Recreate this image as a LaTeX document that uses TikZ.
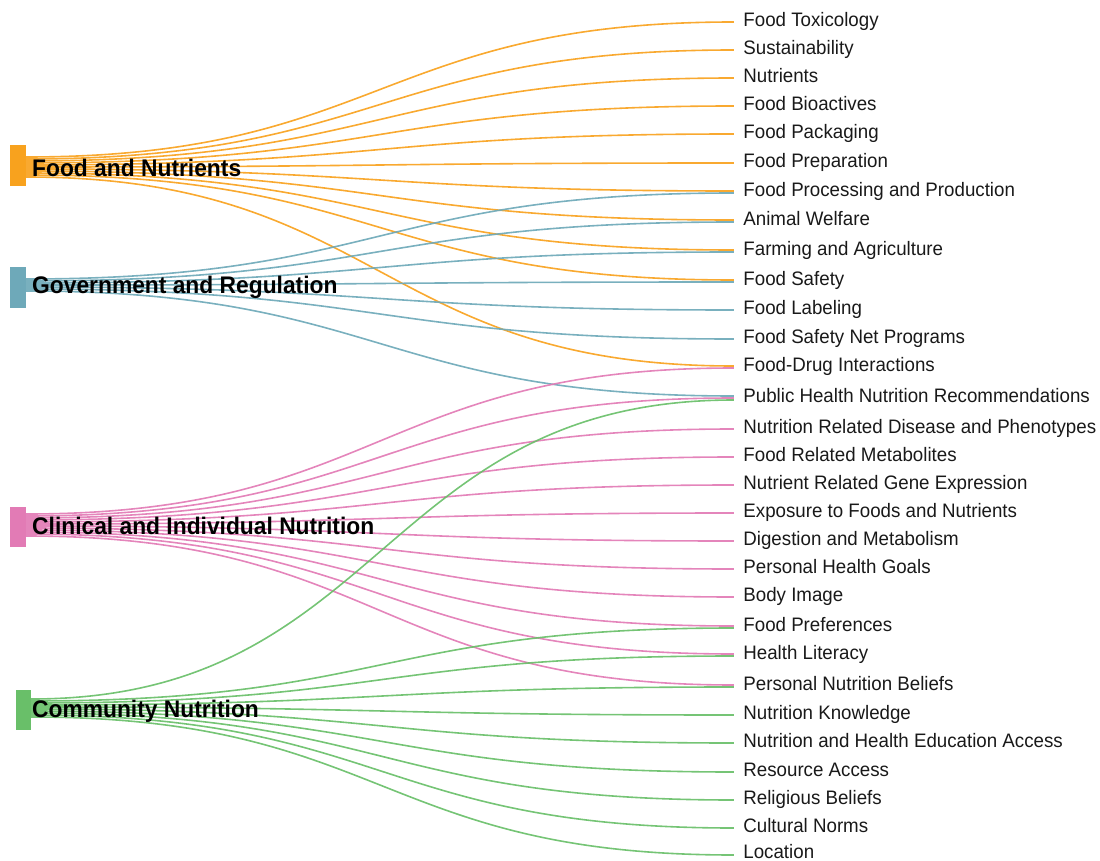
\documentclass[tikz,border=0pt]{standalone}
\usepackage{fontspec}
\setmainfont{Liberation Sans}
\newfontfamily\rfont[FakeStretch=0.96]{Liberation Sans}
\newfontfamily\bfont[FakeStretch=0.95]{Liberation Sans}
\definecolor{cOr}{HTML}{F8A21E}
\definecolor{cTe}{HTML}{6EA9B9}
\definecolor{cPi}{HTML}{E27BB5}
\definecolor{cGr}{HTML}{69BF69}
\tikzset{
  srcbar/.style={rectangle, inner sep=0pt, minimum width=16pt, minimum height=41pt},
  srclab/.style={anchor=base west, inner sep=0pt, font=\bfont\bfseries\fontsize{24}{26}\selectfont, text=black},
  lab/.style={inner sep=0pt, xshift=9pt, text height=13.5pt, text depth=4pt, font=\rfont\fontsize{19.5}{22}\selectfont, text=black!90},
  tgt/.style={rectangle, inner sep=0pt, minimum size=0pt},
  lnk/.style={line width=1.6pt, opacity=0.92},
}
\begin{document}
\begin{tikzpicture}[x=1pt, y=-1pt]
\useasboundingbox (0,0) rectangle (1100,861);
% source bars
\node[srcbar, fill=cOr] (fn) at (18,165.5) {};
\node[srcbar, fill=cTe] (gr) at (18,287) {};
\node[srcbar, fill=cPi, minimum height=40pt] (ci) at (18,526.5) {};
\node[srcbar, fill=cGr, minimum width=15pt, minimum height=40pt] (cn) at (23.5,709.5) {};
% target nodes
\node[tgt, label={[lab]right:Food Toxicology}] (tox) at (734,22) {};
\node[tgt, label={[lab]right:Sustainability}] (sus) at (734,50) {};
\node[tgt, label={[lab]right:Nutrients}] (nut) at (734,78) {};
\node[tgt, label={[lab]right:Food Bioactives}] (bio) at (734,106) {};
\node[tgt, label={[lab]right:Food Packaging}] (pack) at (734,134) {};
\node[tgt, label={[lab]right:Food Preparation}] (prep) at (734,163) {};
\node[tgt, label={[lab]right:Food Processing and Production}] (proc) at (734,192) {};
\node[tgt, label={[lab]right:Animal Welfare}] (anim) at (734,221) {};
\node[tgt, label={[lab]right:Farming and Agriculture}] (farm) at (734,251) {};
\node[tgt, label={[lab]right:Food Safety}] (safe) at (734,281) {};
\node[tgt, label={[lab]right:Food Labeling}] (labl) at (734,310) {};
\node[tgt, label={[lab]right:Food Safety Net Programs}] (snet) at (734,339) {};
\node[tgt, label={[lab]right:Food-Drug Interactions}] (drug) at (734,367) {};
\node[tgt, label={[lab]right:Public Health Nutrition Recommendations}] (phn) at (734,398) {};
\node[tgt, label={[lab]right:Nutrition Related Disease and Phenotypes}] (nrd) at (734,429) {};
\node[tgt, label={[lab]right:Food Related Metabolites}] (frm) at (734,457) {};
\node[tgt, label={[lab]right:Nutrient Related Gene Expression}] (nge) at (734,485) {};
\node[tgt, label={[lab]right:Exposure to Foods and Nutrients}] (expo) at (734,513) {};
\node[tgt, label={[lab]right:Digestion and Metabolism}] (dig) at (734,541) {};
\node[tgt, label={[lab]right:Personal Health Goals}] (phg) at (734,569) {};
\node[tgt, label={[lab]right:Body Image}] (body) at (734,597) {};
\node[tgt, label={[lab]right:Food Preferences}] (pref) at (734,627) {};
\node[tgt, label={[lab]right:Health Literacy}] (hlit) at (734,655) {};
\node[tgt, label={[lab]right:Personal Nutrition Beliefs}] (pnb) at (734,686) {};
\node[tgt, label={[lab]right:Nutrition Knowledge}] (nkn) at (734,715) {};
\node[tgt, label={[lab]right:Nutrition and Health Education Access}] (nhe) at (734,743) {};
\node[tgt, label={[lab]right:Resource Access}] (res) at (734,772) {};
\node[tgt, label={[lab]right:Religious Beliefs}] (rel) at (734,800) {};
\node[tgt, label={[lab]right:Cultural Norms}] (cult) at (734,828) {};
\node[tgt, label={[lab, yshift=1.5pt]right:Location}] (loc) at (734,855) {};
% links
\foreach \t/\s/\e in {tox/8.5/0, sus/6.5/0, nut/4.5/0, bio/2.5/0, pack/0.5/0, prep/-1.5/0, proc/-3.5/1, anim/-5.5/1, farm/-7.5/1, safe/-9.5/1, drug/-11.5/1}
  \draw[lnk, cOr] ([yshift=\s pt]fn.east) .. controls +(354,0) and +(-354,0) .. ([yshift=\e pt]\t.west);
\foreach \t/\s/\e in {proc/8/-1, anim/6/-1, farm/4/-1, safe/2/-1, labl/0/0, snet/-2/0, phn/-4/2}
  \draw[lnk, cTe] ([yshift=\s pt]gr.east) .. controls +(354,0) and +(-354,0) .. ([yshift=\e pt]\t.west);
\foreach \t/\s/\e in {drug/12.5/-1, phn/10.5/0, nrd/8.5/0, frm/6.5/0, nge/4.5/0, expo/2.5/0, dig/0.5/0, phg/-1.5/0, body/-3.5/0, pref/-5.5/1, hlit/-7.5/1, pnb/-9.5/1}
  \draw[lnk, cPi] ([yshift=\s pt]ci.east) .. controls +(354,0) and +(-354,0) .. ([yshift=\e pt]\t.west);
\foreach \t/\s/\e in {phn/10.5/-2, pref/8.5/-1, hlit/6.5/-1, pnb/4.5/-1, nkn/2.5/0, nhe/0.5/0, res/-1.5/0, rel/-3.5/0, cult/-5.5/0, loc/-7.5/0}
  \draw[lnk, cGr] ([yshift=\s pt]cn.east) .. controls +(354,0) and +(-354,0) .. ([yshift=\e pt]\t.west);
% source labels
\node[srclab] (fnl) at (32,177) {Food and Nutrients};
\node[srclab] (grl) at (32,293) {Government and Regulation};
\node[srclab] (cil) at (32,534) {Clinical and Individual Nutrition};
\node[srclab] (cnl) at (32,717) {Community Nutrition};
\end{tikzpicture}
\end{document}
